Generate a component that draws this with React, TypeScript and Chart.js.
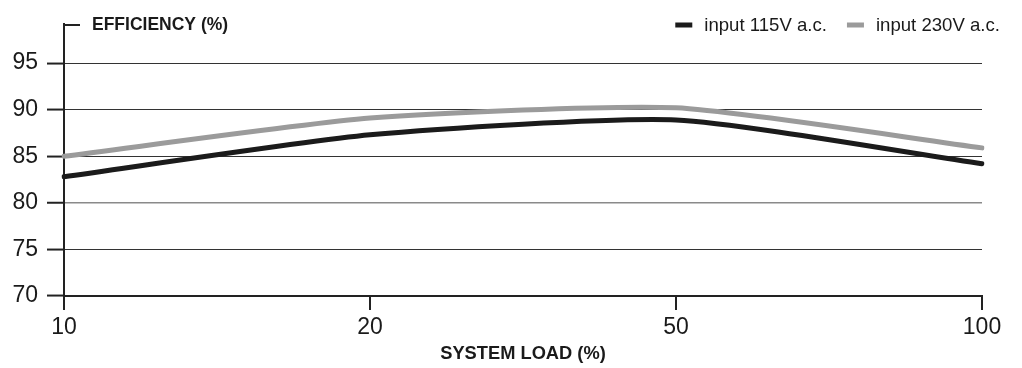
import React, { useEffect, useRef } from 'react';
import { Chart, registerables } from 'chart.js';

Chart.register(...registerables);

const categories = ['10', '20', '50', '100'];
const input115 = [82.8, 87.3, 88.9, 84.2];
const input230 = [85.0, 89.1, 90.2, 85.9];
const seriesLabels = ['input 115V a.c.', 'input 230V a.c.'];
const seriesColors = ['#1b1b1b', '#9b9b9b'];
const yMin = 70;
const yMax = 99.2;
const yStep = 5;
const yTitle = 'EFFICIENCY (%)';
const xTitle = 'SYSTEM LOAD (%)';

const FONT = '"Liberation Sans", Arial, Helvetica, sans-serif';

const decorPlugin = {
  id: 'decor',
  afterDraw(chart: any) {
    const { ctx, chartArea } = chart;
    ctx.save();
    // top stub of the y axis
    ctx.strokeStyle = '#222';
    ctx.lineWidth = 2;
    ctx.beginPath();
    ctx.moveTo(chartArea.left - 1, chartArea.top + 1);
    ctx.lineTo(chartArea.left + 16, chartArea.top + 1);
    ctx.stroke();
    // y title
    ctx.fillStyle = '#1a1a1a';
    ctx.font = `bold 17.5px ${FONT}`;
    ctx.textAlign = 'left';
    ctx.textBaseline = 'middle';
    ctx.fillText(yTitle, chartArea.left + 28, chartArea.top + 1);
    // legend
    ctx.font = `18.6px ${FONT}`;
    const ds = chart.data.datasets;
    const markerW = 17;
    const gap = 12;
    const spacing = 20;
    let x = 1000;
    const items: { label: string; color: string; w: number }[] = ds.map((d: any) => ({
      label: d.label,
      color: d.borderColor,
      w: ctx.measureText(d.label).width,
    }));
    const positions: number[] = [];
    for (let i = items.length - 1; i >= 0; i--) {
      const start = x - items[i].w - gap - markerW;
      positions[i] = start;
      x = start - spacing;
    }
    const ly = chartArea.top + 1;
    items.forEach((it, i) => {
      const sx = positions[i];
      ctx.fillStyle = it.color;
      ctx.fillRect(sx, ly - 2.5, markerW, 5);
      ctx.fillStyle = '#1a1a1a';
      ctx.fillText(it.label, sx + markerW + gap, ly + 1);
    });
    ctx.restore();
  },
};

export default function App() {
  const ref = useRef<HTMLCanvasElement | null>(null);
  useEffect(() => {
    document.body.style.margin = '0';
    const canvas = ref.current;
    if (!canvas) return;
    const chart = new Chart(canvas, {
      type: 'line',
      data: {
        labels: categories,
        datasets: [
          {
            label: seriesLabels[0],
            data: input115,
            borderColor: seriesColors[0],
            backgroundColor: seriesColors[0],
            borderWidth: 5,
            pointRadius: 0,
            tension: 0.2,
            borderCapStyle: 'round',
            borderJoinStyle: 'round',
          },
          {
            label: seriesLabels[1],
            data: input230,
            borderColor: seriesColors[1],
            backgroundColor: seriesColors[1],
            borderWidth: 5,
            pointRadius: 0,
            tension: 0.2,
            borderCapStyle: 'round',
            borderJoinStyle: 'round',
          },
        ],
      },
      options: {
        responsive: false,
        animation: false,
        devicePixelRatio: 1,
        layout: { padding: { top: 24, right: 40, left: 0, bottom: 0 } },
        plugins: {
          legend: { display: false },
          tooltip: { enabled: false },
        },
        scales: {
          x: {
            type: 'category',
            offset: false,
            grid: {
              drawOnChartArea: false,
              drawTicks: true,
              tickLength: 14,
              color: '#222',
              lineWidth: 2,
            },
            border: { display: true, color: '#222', width: 2 },
            ticks: {
              font: { family: FONT, size: 23 },
              color: '#1a1a1a',
              padding: 4,
              maxRotation: 0,
            },
            title: {
              display: true,
              text: xTitle,
              color: '#1a1a1a',
              font: { family: FONT, size: 18.3, weight: 'bold' },
              padding: { top: 0, bottom: 3 },
            },
            afterFit: (s: any) => {
              s.height = 72;
            },
          },
          y: {
            type: 'linear',
            min: yMin,
            max: yMax,
            ticks: {
              stepSize: yStep,
              font: { family: FONT, size: 23 },
              color: '#1a1a1a',
              padding: 9,
            },
            afterBuildTicks: (s: any) => {
              s.ticks = s.ticks.filter((t: any) => t.value % yStep === 0);
            },
            grid: {
              drawOnChartArea: true,
              drawTicks: true,
              tickLength: 17,
              tickColor: '#222',
              tickWidth: 2,
              color: (c: any) => (c.tick && c.tick.value === 80 ? '#8a8a8a' : '#333'),
              lineWidth: (c: any) => (c.tick && c.tick.value === 80 ? 1.5 : 1.1),
            },
            border: { display: true, color: '#222', width: 2 },
            afterFit: (s: any) => {
              s.width = 64;
            },
          },
        },
      },
      plugins: [decorPlugin],
    } as any);
    return () => chart.destroy();
  }, []);
  return (
    <div style={{ width: 1022, height: 368 }}>
      <canvas ref={ref} width={1022} height={368} style={{ display: 'block' }} />
    </div>
  );
}
